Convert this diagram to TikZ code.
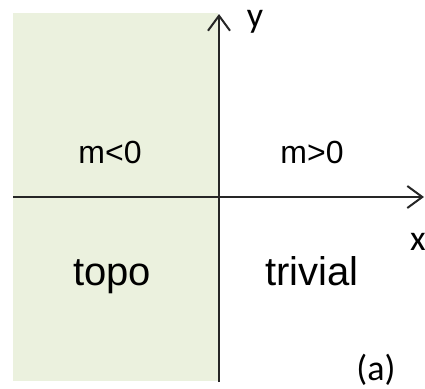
\documentclass[tikz,border=0pt]{standalone}
\usepackage{fontspec}
\setmainfont{Liberation Sans}
\newfontfamily\calfont{Carlito}
\usetikzlibrary{arrows.meta}
\definecolor{regiongreen}{RGB}{235,241,222}
\tikzset{
  axis/.style={line width=2pt, black!85, -{Straight Barb[length=15pt, width=22pt, line width=2pt]}},
  lbl/.style={inner sep=0pt, anchor=base, font=\fontsize{40}{40}\selectfont},
  mlbl/.style={inner sep=0pt, anchor=base, font=\fontsize{32}{32}\selectfont},
  clbl/.style={inner sep=0pt, anchor=base, font=\calfont\fontsize{36}{36}\selectfont}
}
\begin{document}
\begin{tikzpicture}[x=1pt, y=-1pt]
\useasboundingbox (0,0) rectangle (425,388);
\fill[regiongreen] (13,13) rectangle (218,381);
\coordinate (ybot) at (219,382);
\coordinate (ytop) at (219,14);
\coordinate (xleft) at (13,197);
\coordinate (xright) at (424,197);
\draw[axis] (ybot) -- (ytop);
\draw[axis] (xleft) -- (xright);
\node[clbl] (ylab) at (255,27) {y};
\node[clbl] (xlab) at (418,250) {x};
\node[mlbl] (mneg) at (110,163) {m<0};
\node[mlbl] (mpos) at (312,163) {m>0};
\node[lbl] (topo) at (112,285) {topo};
\node[lbl] (triv) at (312,285) {trivial};
\node[clbl] (alab) at (376,380) {(a)};
\end{tikzpicture}
\end{document}
